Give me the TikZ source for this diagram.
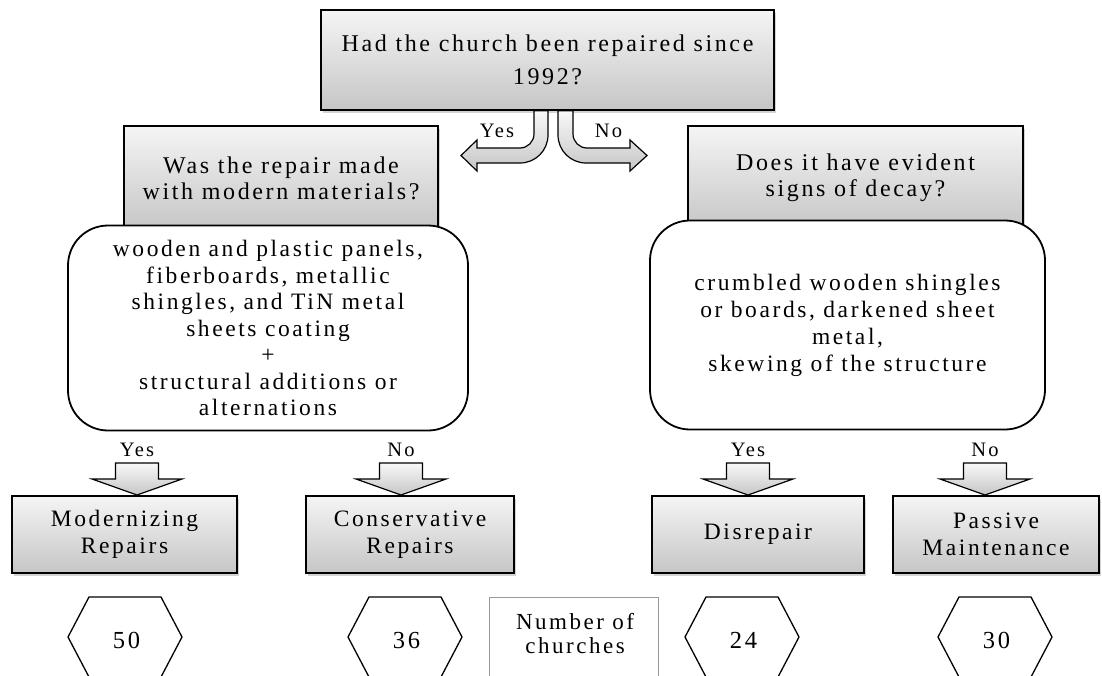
\documentclass[tikz,border=0pt]{standalone}
\usepackage{fontspec}
\setmainfont{Liberation Serif}[LetterSpace=11]
\usetikzlibrary{shadows}
\tikzset{
  gbox/.style={draw=black, line width=1.6pt, top color=gray!8, bottom color=gray!45,
     inner sep=0pt, align=center,
     drop shadow={shadow xshift=2pt, shadow yshift=-2.5pt, opacity=0.35}},
  rbox/.style={draw=black, line width=1.8pt, fill=white, rounded corners=40pt,
     inner sep=0pt, align=center},
  darrow/.style={draw=black, line width=1.2pt, top color=gray!5, bottom color=gray!45,
     line join=miter},
  lbl/.style={font=\fontsize{20.5}{22}\selectfont, anchor=base, inner sep=0pt},
  hexa/.style={draw=black, line width=1.3pt},
  num/.style={font=\fontsize{24.5}{26}\selectfont, inner sep=0pt},
}
\begin{document}
\begin{tikzpicture}[x=1pt,y=-1pt]
\useasboundingbox (0,0) rectangle (1102,675);
% top question
\node[gbox, minimum width=453pt, minimum height=100pt, font=\fontsize{24}{33}\selectfont]
  (top) at (547.5,60) {Had the church been repaired since\\1992?};
% split arrow
\draw[darrow] (top.south -| 534,0) -- (534,134) .. controls (534,141.7) and (527.7,148) .. (520,148)
  -- (477,148) -- (477,140) -- (461,155.5) -- (477,171) -- (477,163) -- (520,163)
  .. controls (535.5,163) and (548,150.5) .. (548,135) -- (top.south -| 548,0) -- cycle;
\draw[darrow] (top.south -| 573,0) -- (573,134) .. controls (573,141.7) and (579.3,148) .. (587,148)
  -- (630,148) -- (630,140) -- (647,155.5) -- (630,171) -- (630,163) -- (586,163)
  .. controls (570.5,163) and (558,150.5) .. (558,135) -- (top.south -| 558,0) -- cycle;
\node[lbl] (yes0) at (497,137) {Yes};
\node[lbl] (no0) at (608.5,137) {No};
% second level questions
\node[gbox, minimum width=314pt, minimum height=104pt, font=\fontsize{24}{26}\selectfont]
  (qL) at (281,178) {Was the repair made\\with modern materials?};
\node[gbox, minimum width=335pt, minimum height=104pt, font=\fontsize{24}{26}\selectfont]
  (qR) at (855.5,178) {Does it have evident\\signs of decay?};
% rounded boxes
\node[rbox, minimum width=400pt, minimum height=205pt, font=\fontsize{23.5}{26.5}\selectfont]
  (rL) at (268,328) {wooden and plastic panels,\\fiberboards, metallic\\shingles, and TiN metal\\sheets coating\\+\\structural additions or\\alternations};
\node[rbox, minimum width=395pt, minimum height=209pt, font=\fontsize{23.5}{27}\selectfont]
  (rR) at (847.5,325) {crumbled wooden shingles\\or boards, darkened sheet\\metal,\\skewing of the structure};
% down arrows and labels
\foreach \c/\t/\n in {137/Yes/a1, 401/No/a2, 748/Yes/a3, 985/No/a4}{
  \node[lbl] (l\n) at (\c,456) {\t};
  \draw[darrow] (\c-21.5,463) -- (\c+21.5,463) -- (\c+21.5,479) -- (\c+45,479) -- (\c,495)
    -- (\c-45,479) -- (\c-21.5,479) -- cycle;
}
% outcome boxes
\node[gbox, minimum width=225pt, minimum height=77pt, font=\fontsize{23.5}{27}\selectfont]
  (mod) at (124.5,534.5) {Modernizing\\Repairs};
\node[gbox, minimum width=208pt, minimum height=77pt, font=\fontsize{23.5}{27}\selectfont]
  (con) at (410,534.5) {Conservative\\Repairs};
\node[gbox, minimum width=212pt, minimum height=77pt, font=\fontsize{23.5}{27}\selectfont]
  (dis) at (758,534.5) {Disrepair};
\node[gbox, minimum width=206pt, minimum height=77pt, font=\fontsize{23.5}{27}\selectfont]
  (pas) at (996,534.5) {Passive\\Maintenance};
% hexagons
\foreach \c/\v/\n in {125/50/h1, 405/36/h2, 742/24/h3, 995/30/h4}{
  \draw[hexa] (\c-36,597) -- (\c+36,597) -- (\c+57,637) -- (\c+36,677) -- (\c-36,677)
    -- (\c-57,637) -- cycle;
  \node[num, anchor=base] (\n) at (\c+1.5,648) {\v};
}
% legend
\draw[draw=gray!80, line width=1pt] (489,700) -- (489,597) -- (658,597) -- (658,700);
\node[font=\fontsize{23}{24}\selectfont, align=center, inner sep=0pt, anchor=base] (leg)
  at (575,653) {Number of\\churches};
\end{tikzpicture}
\end{document}
